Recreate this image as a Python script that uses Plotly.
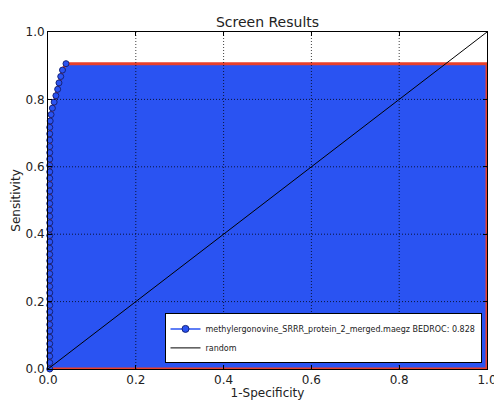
import plotly.graph_objects as go

# ROC curve points (1-specificity, sensitivity)
fpr = [0.004] * 39 + [0.005, 0.007, 0.010, 0.014, 0.018, 0.022, 0.025, 0.029, 0.033, 0.041]
tpr = [0.000, 0.019, 0.038, 0.057, 0.075, 0.094, 0.113, 0.132, 0.151, 0.170,
       0.189, 0.208, 0.226, 0.245, 0.264, 0.283, 0.302, 0.321, 0.340, 0.358,
       0.377, 0.396, 0.415, 0.434, 0.453, 0.472, 0.491, 0.509, 0.528, 0.547,
       0.566, 0.585, 0.604, 0.623, 0.642, 0.660, 0.679, 0.698, 0.717, 0.736,
       0.755, 0.774, 0.792, 0.811, 0.830, 0.849, 0.868, 0.887, 0.906]
random_x = [0.0, 1.0]
random_y = [0.0, 1.0]
series_name = "methylergonovine_SRRR_protein_2_merged.maegz BEDROC: 0.828"
ticks = [0.0, 0.2, 0.4, 0.6, 0.8, 1.0]
tick_labels = ["0.0", "0.2", "0.4", "0.6", "0.8", "1.0"]

BLUE = "#2a53f2"
RED = "#e8402a"
EDGE = "#14237a"
FONT = "DejaVu Sans"
TXT = "#222222"

poly_x = fpr + [1.0, 1.0, fpr[0]]
poly_y = tpr + [tpr[-1], 0.0, 0.0]

fig = go.Figure()
fig.add_trace(go.Scatter(x=poly_x, y=poly_y, mode="lines", fill="toself",
                         fillcolor=BLUE, line=dict(color=RED, width=3),
                         showlegend=False, hoverinfo="skip"))
fig.add_trace(go.Scatter(x=fpr, y=tpr, mode="markers", name=series_name,
                         marker=dict(color=BLUE, size=6, line=dict(color=EDGE, width=1)),
                         showlegend=False, legendgroup="roc", cliponaxis=False))
fig.add_trace(go.Scatter(x=[None], y=[None], mode="lines+markers", name=series_name,
                         line=dict(color=BLUE, width=1.5),
                         marker=dict(color=BLUE, size=7, line=dict(color=EDGE, width=1)),
                         legendgroup="roc"))
fig.add_trace(go.Scatter(x=random_x, y=random_y, mode="lines", name="random",
                         line=dict(color="black", width=1)))

# dotted grid drawn above the filled area
for t in ticks[1:-1]:
    fig.add_shape(type="line", xref="x", yref="paper", x0=t, x1=t, y0=0, y1=1,
                  line=dict(color="black", width=1, dash="1px,2px"), layer="above", opacity=0.75)
    fig.add_shape(type="line", xref="paper", yref="y", x0=0, x1=1, y0=t, y1=t,
                  line=dict(color="black", width=1, dash="1px,2px"), layer="above", opacity=0.75)

axis_common = dict(range=[0, 1], tickvals=ticks, ticktext=tick_labels,
                   showgrid=False, zeroline=False, showline=True, linecolor="black",
                   linewidth=1, mirror="ticks", ticks="inside", ticklen=4,
                   tickcolor="black", automargin=False,
                   tickfont=dict(family=FONT, size=12, color=TXT))

# page body has an 8px default margin, so the figure is sized to fit the window
fig.update_layout(
    width=494, height=392,
    margin=dict(l=40, r=14.5, t=24, b=30.5),
    paper_bgcolor="white", plot_bgcolor="white",
    title=dict(text="Screen Results", x=0.5, xref="paper", xanchor="center",
               y=0.965, yref="container", yanchor="middle", automargin=False,
               font=dict(family=FONT, size=14, color=TXT)),
    xaxis=dict(title=dict(text="1-Specificity", font=dict(family=FONT, size=12, color=TXT),
                          standoff=0), **axis_common),
    yaxis=dict(title=dict(text="Sensitivity", font=dict(family=FONT, size=12, color=TXT),
                          standoff=2), **axis_common),
    legend=dict(x=0.9875, y=0.0166, xanchor="right", yanchor="bottom",
                bgcolor="white", bordercolor="black", borderwidth=1,
                font=dict(family=FONT, size=8, color=TXT),
                tracegroupgap=0, itemwidth=30),
    showlegend=True,
)

fig.write_html("out.html")
